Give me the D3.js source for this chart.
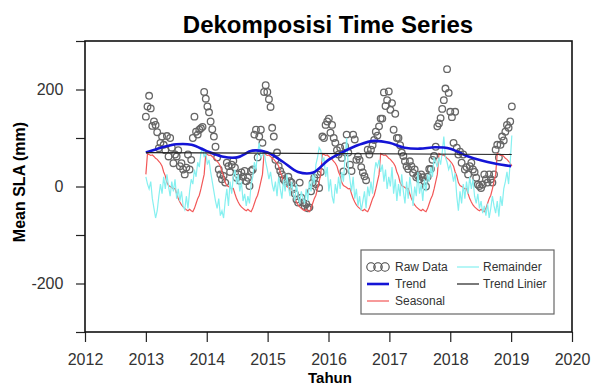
<!DOCTYPE html>
<html>
<head>
<meta charset="utf-8">
<title>Dekomposisi Time Series</title>
<script src="https://d3js.org/d3.v7.min.js"></script>
<style>
  body { margin: 0; background: #fff; }
  text { font-family: "Liberation Sans", Arial, sans-serif; }
</style>
</head>
<body>
<svg width="594" height="385"></svg>
<script>
// one value every ~9.7 days starting at 2013.0
var startYear = 2013;
var stepYear = 0.0266;

var rawValues = [
  144,165,187,161,125,134,127,112,79,90,103,86,
  75,104,62,100,80,48,66,62,75,42,48,35,
  25,39,66,35,55,100,144,113,107,117,120,123,
  195,181,165,153,134,118,103,82,60,35,25,15,
  22,8,49,42,30,45,53,39,18,25,12,29,
  20,32,11,18,1,32,35,107,117,60,103,117,
  90,195,209,195,180,164,121,103,55,70,42,32,
  25,15,11,8,20,11,8,-5,-15,-27,-33,8,
  -23,-33,-40,-36,-45,-43,-10,8,18,5,25,-3,
  30,103,100,127,134,140,111,127,100,90,75,66,
  80,59,31,83,107,70,45,32,107,97,55,62,
  55,40,29,21,13,76,66,76,85,96,113,105,
  124,140,140,194,166,178,196,158,172,117,150,100,
  100,85,70,63,52,42,36,52,42,28,35,19,
  22,15,25,19,11,0,20,36,36,55,63,82,
  124,130,141,160,178,202,242,193,154,143,90,154,
  80,66,72,49,66,35,40,25,42,49,35,30,
  18,4,1,-3,4,25,15,8,25,15,8,25,
  76,86,60,86,103,95,113,127,121,134,165
];

var seasonalValues = [
  25,68,66,64,65,62,58,56,52,48,42,30,
  22,8,2,0,-2,-5,-4,-15,-25,-32,-38,-42,
  -45,-48,-50,-47,-50,-52,-45,-35,-25,-18,-5,10,
  25,68,66,64,65,62,58,56,52,48,42,30,
  22,8,2,0,-2,-5,-4,-15,-25,-32,-38,-42,
  -45,-48,-50,-47,-50,-52,-45,-35,-25,-18,-5,10,
  25,68,66,64,65,62,58,56,52,48,42,30,
  22,8,2,0,-2,-5,-4,-15,-25,-32,-38,-42,
  -45,-48,-50,-47,-50,-52,-45,-35,-25,-18,-5,10,
  25,68,66,64,65,62,58,56,52,48,42,30,
  22,8,2,0,-2,-5,-4,-15,-25,-32,-38,-42,
  -45,-48,-50,-47,-50,-52,-45,-35,-25,-18,-5,10,
  25,68,66,64,65,62,58,56,52,48,42,30,
  22,8,2,0,-2,-5,-4,-15,-25,-32,-38,-42,
  -45,-48,-50,-47,-50,-52,-45,-35,-25,-18,-5,10,
  25,68,66,64,65,62,58,56,52,48,42,30,
  22,8,2,0,-2,-5,-4,-15,-25,-32,-38,-42,
  -45,-48,-50,-47,-50,-52,-45,-35,-25,-18,-5,10,
  25,68,66,64,65,62,58,56,52,48,42
];

var remainderValues = [
  20,5,-5,10,-25,-45,-65,-50,-20,5,-15,20,
  -5,25,0,-20,10,-10,15,-25,-5,-30,-10,-40,
  -48,-20,-45,-10,15,5,35,20,50,40,70,80,
  60,70,45,55,30,10,-10,-30,-45,-25,-60,-50,
  -65,-30,-5,-40,10,-15,20,35,5,25,-10,10,
  -30,-15,-40,-20,-35,5,20,50,35,70,90,60,
  65,75,50,35,15,30,5,-10,10,-20,20,-5,
  -25,15,-10,25,0,-20,10,-15,-30,5,-20,-35,
  -10,-25,-35,-5,-30,10,-10,25,5,45,60,80,
  75,50,60,20,40,-10,15,-20,-35,5,-15,20,
  -5,30,10,60,100,40,15,-10,20,-25,-5,-40,
  -20,-50,-30,-10,-45,0,-20,10,-15,25,50,40,
  55,30,45,10,35,-5,20,0,40,-15,15,-30,
  5,-20,25,-10,-35,10,-25,20,-5,-40,0,-20,
  30,-15,5,-30,15,-10,25,10,40,20,60,50,
  40,60,45,70,103,60,50,35,45,30,10,28,
  -20,-50,-10,-35,5,-25,10,-15,20,-5,15,-20,
  -35,-15,-45,-30,-55,-40,-60,-35,-65,-45,-20,-40,
  -55,-30,-62,-20,-40,-5,10,30,5,50,105
];

var trendYears = [2013, 2013.25, 2013.5, 2013.75, 2014, 2014.25, 2014.5, 2014.75,
                  2015, 2015.25, 2015.5, 2015.75, 2016, 2016.25, 2016.5, 2016.75,
                  2017, 2017.25, 2017.5, 2017.75, 2018, 2018.25, 2018.5, 2018.75, 2019];
var trendValues = [70, 80, 87, 86, 73, 62, 60, 74,
                   70, 51, 30, 29, 55, 72, 86, 94,
                   90, 80, 78, 81, 78, 64, 54, 47, 42];

var linierYears = [2013, 2019.01];
var linierValues = [70, 66];

var xTicks = [2012, 2013, 2014, 2015, 2016, 2017, 2018, 2019, 2020];
var yTicks = [-300, -200, -100, 0, 100, 200, 300];
var yLabelTicks = [-200, 0, 200];

var svg = d3.select("svg");
var x = d3.scaleLinear().domain([2012, 2020]).range([85, 572]);
var y = d3.scaleLinear().domain([-300, 300]).range([332, 41]);

function timeOf(i) { return startYear + i * stepYear; }

// axes
var xAxis = svg.append("g")
    .attr("transform", "translate(0,332)")
    .call(d3.axisBottom(x).tickValues(xTicks).tickFormat(d3.format("d")).tickSize(10).tickSizeOuter(0));
xAxis.select(".domain").remove();
xAxis.selectAll("line").attr("stroke", "#222").attr("stroke-width", 1.2);
xAxis.selectAll("text").attr("font-size", 16).attr("fill", "#333").attr("dy", "1.25em")
    .style("font-family", "Liberation Sans, Arial, sans-serif");

var yAxis = svg.append("g")
    .attr("transform", "translate(85,0)")
    .call(d3.axisLeft(y).tickValues(yTicks)
        .tickFormat(function(d) { return yLabelTicks.indexOf(d) >= 0 ? String(d).replace("\u2212", "-") : ""; })
        .tickSize(9).tickSizeOuter(0));
yAxis.select(".domain").remove();
yAxis.selectAll("line").attr("stroke", "#222").attr("stroke-width", 1.2);
yAxis.selectAll("text").attr("font-size", 16).attr("fill", "#333").attr("dx", "-0.6em")
    .style("font-family", "Liberation Sans, Arial, sans-serif");

// raw data points
svg.append("g")
  .selectAll("circle")
  .data(rawValues)
  .enter()
  .append("circle")
    .attr("cx", function(d, i) { return x(timeOf(i)); })
    .attr("cy", function(d) { return y(d); })
    .attr("r", 3.3)
    .attr("fill", "none")
    .attr("stroke", "#666")
    .attr("stroke-width", 1.3);

var seriesLine = d3.line()
    .x(function(d, i) { return x(timeOf(i)); })
    .y(function(d) { return y(d); });

svg.append("path")
    .attr("d", seriesLine(seasonalValues))
    .attr("fill", "none").attr("stroke", "#f25757").attr("stroke-width", 1.2);

svg.append("path")
    .attr("d", seriesLine(remainderValues))
    .attr("fill", "none").attr("stroke", "#86f0f0").attr("stroke-width", 1.2);

var trendLine = d3.line()
    .x(function(d, i) { return x(trendYears[i]); })
    .y(function(d) { return y(d); })
    .curve(d3.curveCatmullRom);

svg.append("path")
    .attr("d", trendLine(trendValues))
    .attr("fill", "none").attr("stroke", "#1414d6").attr("stroke-width", 2.6);

var linierLine = d3.line()
    .x(function(d, i) { return x(linierYears[i]); })
    .y(function(d) { return y(d); });

svg.append("path")
    .attr("d", linierLine(linierValues))
    .attr("fill", "none").attr("stroke", "#222").attr("stroke-width", 1.2);

// plot box
svg.append("rect")
    .attr("x", x(2012)).attr("y", y(300))
    .attr("width", x(2020) - x(2012)).attr("height", y(-300) - y(300))
    .attr("fill", "none").attr("stroke", "#111").attr("stroke-width", 1.6);

// titles
svg.append("text")
    .attr("x", 328).attr("y", 33)
    .attr("text-anchor", "middle")
    .attr("font-size", 24).attr("font-weight", "bold")
    .text("Dekomposisi Time Series");

svg.append("text")
    .attr("x", 330).attr("y", 383)
    .attr("text-anchor", "middle")
    .attr("font-size", 15).attr("font-weight", "bold")
    .text("Tahun");

svg.append("text")
    .attr("transform", "translate(25,182) rotate(-90)")
    .attr("text-anchor", "middle")
    .attr("font-size", 16).attr("font-weight", "bold")
    .text("Mean SLA (mm)");

// legend
var legend = svg.append("g");
legend.append("rect")
    .attr("x", 361).attr("y", 250).attr("width", 193).attr("height", 64)
    .attr("fill", "#fff").attr("stroke", "#666").attr("stroke-width", 1.2);

var legendItems = [
  {label: "Raw Data", col: 0, row: 0, type: "circle"},
  {label: "Trend", col: 0, row: 1, color: "#1414d6", width: 2.6},
  {label: "Seasonal", col: 0, row: 2, color: "#f25757", width: 1.2},
  {label: "Remainder", col: 1, row: 0, color: "#86f0f0", width: 1.2},
  {label: "Trend Linier", col: 1, row: 1, color: "#222", width: 1.2}
];

legendItems.forEach(function(it) {
  var lx = it.col == 0 ? 367 : 457;
  var ly = 267 + it.row * 17;
  if (it.type == "circle") {
    [371, 378, 385].forEach(function(cx) {
      legend.append("circle").attr("cx", cx).attr("cy", ly).attr("r", 4.2)
        .attr("fill", "none").attr("stroke", "#444").attr("stroke-width", 1.1);
    });
  } else {
    legend.append("line")
      .attr("x1", lx).attr("x2", lx + 22).attr("y1", ly).attr("y2", ly)
      .attr("stroke", it.color).attr("stroke-width", it.width);
  }
  legend.append("text")
    .attr("x", it.col == 0 ? 395 : 483).attr("y", ly + 4)
    .attr("font-size", 12).attr("fill", "#333")
    .text(it.label);
});
</script>
</body>
</html>
